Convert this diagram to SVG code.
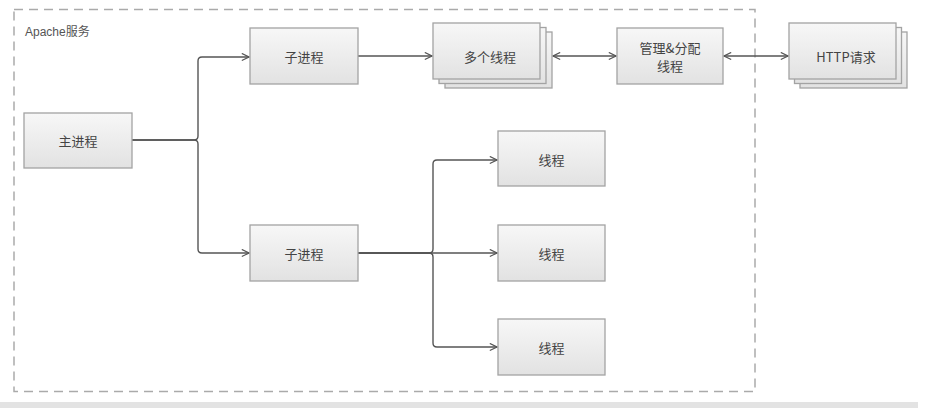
<svg xmlns="http://www.w3.org/2000/svg" width="929" height="408" viewBox="0 0 929 408">
<defs>
<linearGradient id="g" x1="0" y1="0" x2="0" y2="1">
<stop offset="0" stop-color="#f7f7f7"/>
<stop offset="1" stop-color="#e2e2e2"/>
</linearGradient>
<marker id="ah" viewBox="0 0 10 10" refX="9" refY="5" markerWidth="9" markerHeight="9" markerUnits="userSpaceOnUse" orient="auto-start-reverse">
<path d="M1,1 L9,5 L1,9" fill="none" stroke="#555" stroke-width="1.3"/>
</marker>
</defs>
<style>
.box{fill:url(#g);stroke:#a3a3a3;stroke-width:1.3}
.t{font-family:"Noto Sans CJK SC","Liberation Sans",sans-serif;font-size:13px;fill:#444;text-anchor:middle;dominant-baseline:central}
.c{fill:none;stroke:#555;stroke-width:1.4}
</style>
<rect x="0" y="0" width="929" height="408" fill="#ffffff"/>
<g id="container">
<rect x="14" y="9.5" width="741" height="382" fill="none" stroke="#aaa" stroke-width="1.5" stroke-dasharray="9,6"/>
<text x="25" y="36" style="font-family:'Liberation Sans','Noto Sans CJK SC',sans-serif;font-size:12px;fill:#555">Apache服务</text>
</g>
<g id="connectors">
<path class="c" d="M132,140 H194 Q198,140 198,136 V61 Q198,57 202,57 H249" marker-end="url(#ah)"/>
<path class="c" d="M132,140 H194 Q198,140 198,144 V249 Q198,253 202,253 H249" marker-end="url(#ah)"/>
<path class="c" d="M358,56 H432" marker-end="url(#ah)"/>
<path class="c" d="M553,56 H616" marker-start="url(#ah)" marker-end="url(#ah)"/>
<path class="c" d="M724,56 H788" marker-start="url(#ah)" marker-end="url(#ah)"/>
<path class="c" d="M358,253 H497" marker-end="url(#ah)"/>
<path class="c" d="M358,253 H429 Q433,253 433,249 V164 Q433,160 437,160 H497" marker-end="url(#ah)"/>
<path class="c" d="M358,253 H429 Q433,253 433,257 V343 Q433,347 437,347 H497" marker-end="url(#ah)"/>
</g>
<g id="main">
<rect class="box" x="24" y="113" width="108" height="55"/>
<text class="t" x="78" y="140">主进程</text>
</g>
<g id="child1">
<rect class="box" x="250" y="28" width="108" height="56"/>
<text class="t" x="304" y="56">子进程</text>
</g>
<g id="child2">
<rect class="box" x="250" y="225" width="108" height="56"/>
<text class="t" x="304" y="253">子进程</text>
</g>
<g id="threads-multi">
<rect class="box" x="445" y="32" width="107" height="56"/>
<rect class="box" x="439" y="27.5" width="107" height="56"/>
<rect class="box" x="433" y="23" width="107" height="56"/>
<text class="t" x="490" y="56">多个线程</text>
</g>
<g id="manager">
<rect class="box" x="617" y="28" width="106" height="56"/>
<text class="t" x="670" y="47">管理&amp;分配</text>
<text class="t" x="670" y="65">线程</text>
</g>
<g id="http">
<rect class="box" x="800" y="32" width="107" height="56"/>
<rect class="box" x="794.5" y="27.5" width="107" height="56"/>
<rect class="box" x="789" y="23" width="107" height="56"/>
<text class="t" x="846" y="56">HTTP请求</text>
</g>
<g id="thread1">
<rect class="box" x="498" y="131" width="107" height="55"/>
<text class="t" x="551.5" y="159">线程</text>
</g>
<g id="thread2">
<rect class="box" x="498" y="225" width="107" height="56"/>
<text class="t" x="551.5" y="253">线程</text>
</g>
<g id="thread3">
<rect class="box" x="498" y="319" width="107" height="56"/>
<text class="t" x="551.5" y="347">线程</text>
</g>
<rect x="0" y="402" width="918" height="6" fill="#e3e3e3"/>
</svg>
